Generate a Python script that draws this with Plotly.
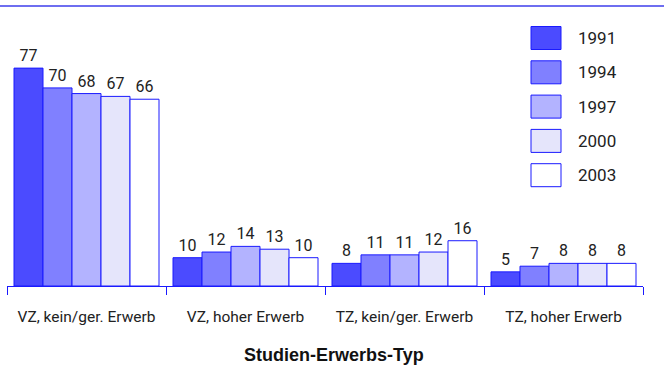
import plotly.graph_objects as go

categories = ["VZ, kein/ger. Erwerb", "VZ, hoher Erwerb", "TZ, kein/ger. Erwerb", "TZ, hoher Erwerb"]
years = ["1991", "1994", "1997", "2000", "2003"]
values = {
    "1991": [77, 10, 8, 5],
    "1994": [70, 12, 11, 7],
    "1997": [68, 14, 11, 8],
    "2000": [67, 13, 12, 8],
    "2003": [66, 10, 16, 8],
}
fills = ["#4b4bff", "#8080ff", "#b3b3ff", "#e5e5fb", "#ffffff"]
EDGE = "#1a1aff"
FONT = "Roboto, Liberation Sans, sans-serif"
TITLE_FONT = "Liberation Sans, Arial, sans-serif"

W, H = 664, 367
ML, MR, MT, MB = 7, 21, 20, 81


def px_x(x):
    return (x - ML) / (W - ML - MR)


def px_y(y):
    return (H - MB - y) / (H - MT - MB)


fig = go.Figure()
for yr, col in zip(years, fills):
    fig.add_trace(go.Bar(
        x=categories, y=values[yr], name=yr,
        marker=dict(color=col, line=dict(color=EDGE, width=1)),
        text=values[yr], textposition="outside",
        textfont=dict(family=FONT, size=16, color="#222"),
        cliponaxis=False, showlegend=False,
    ))

# top rule
fig.add_shape(type="line", xref="paper", yref="paper",
              x0=px_x(0), x1=px_x(W), y0=px_y(6), y1=px_y(6),
              line=dict(color="#6e6ef0", width=2))

# hand-drawn legend (big swatches)
for i, (yr, col) in enumerate(zip(years, fills)):
    cy = 38 + i * 34.3
    fig.add_shape(type="rect", xref="paper", yref="paper",
                  x0=px_x(531), x1=px_x(561), y0=px_y(cy - 11.5), y1=px_y(cy + 11.5),
                  fillcolor=col, line=dict(color=EDGE, width=1))
    fig.add_annotation(x=px_x(576), y=px_y(cy), xref="paper", yref="paper",
                       text=yr, showarrow=False, xanchor="left", yanchor="middle",
                       font=dict(family=FONT, size=17, color="#222"))

# axis title, placed a bit right of centre like the original
fig.add_annotation(x=px_x(334), y=px_y(355), xref="paper", yref="paper",
                   text="<b>Studien-Erwerbs-Typ</b>", showarrow=False,
                   xanchor="center", yanchor="middle",
                   font=dict(family=TITLE_FONT, size=18, color="#111"))

fig.update_layout(
    width=W, height=H,
    margin=dict(l=ML, r=MR, t=MT, b=MB),
    paper_bgcolor="white", plot_bgcolor="white",
    barmode="group", bargap=0.088, bargroupgap=0,
    font=dict(family=FONT, size=15, color="#222"),
    xaxis=dict(
        showline=True, linecolor=EDGE, linewidth=1,
        ticks="outside", tickson="boundaries", ticklen=8, tickcolor=EDGE,
        ticklabelstandoff=16,
        tickfont=dict(family=FONT, size=15.5, color="#222"),
        showgrid=False,
    ),
    yaxis=dict(visible=False, range=[0, 94]),
)

fig.write_html("out.html", config={"displayModeBar": False},
               post_script="document.body.style.margin='0';")
